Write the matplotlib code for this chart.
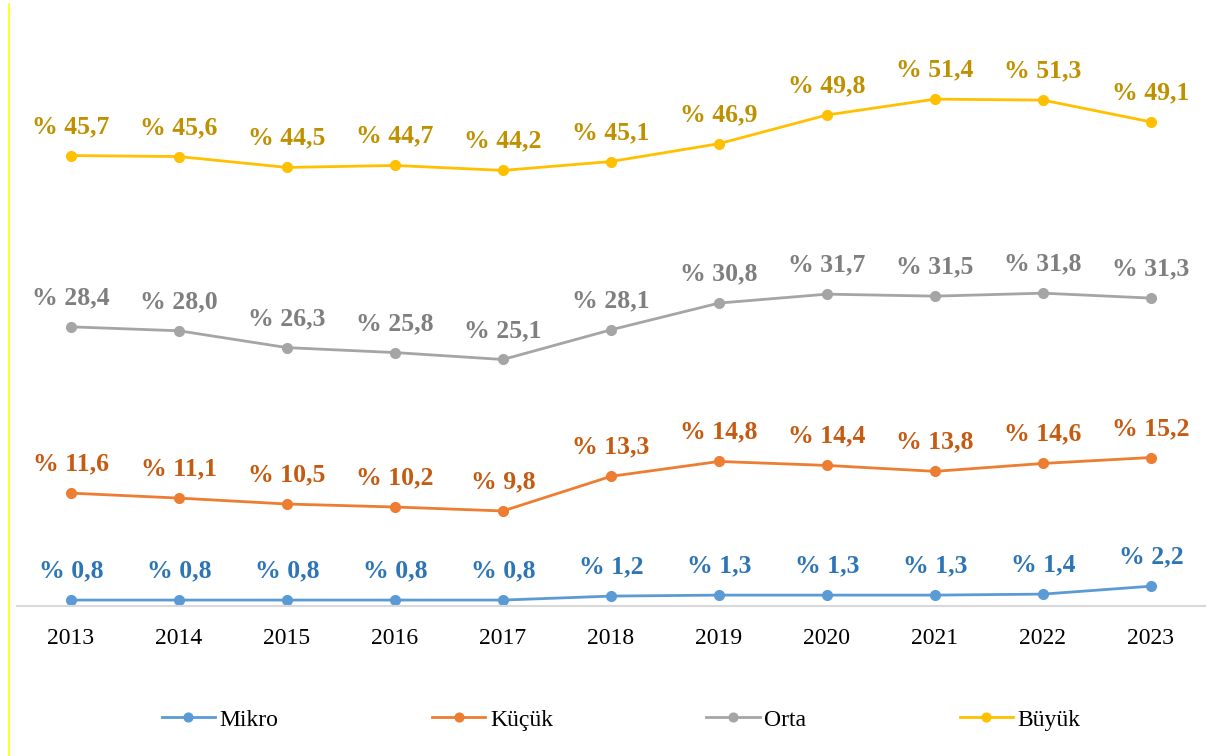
import matplotlib
matplotlib.use("Agg")
import matplotlib.pyplot as plt
from matplotlib.lines import Line2D
from matplotlib.font_manager import FontProperties

plt.rcParams['font.family'] = ['Liberation Serif', 'DejaVu Serif']

years = ["2013", "2014", "2015", "2016", "2017", "2018", "2019", "2020", "2021", "2022", "2023"]
mikro = [0.8, 0.8, 0.8, 0.8, 0.8, 1.2, 1.3, 1.3, 1.3, 1.4, 2.2]
kucuk = [11.6, 11.1, 10.5, 10.2, 9.8, 13.3, 14.8, 14.4, 13.8, 14.6, 15.2]
orta = [28.4, 28.0, 26.3, 25.8, 25.1, 28.1, 30.8, 31.7, 31.5, 31.8, 31.3]
buyuk = [45.7, 45.6, 44.5, 44.7, 44.2, 45.1, 46.9, 49.8, 51.4, 51.3, 49.1]

series = [
    ("Mikro", mikro, "#5B9BD5", "#2E75B6"),
    ("Küçük", kucuk, "#ED7D31", "#C55A11"),
    ("Orta", orta, "#A5A5A5", "#7F7F7F"),
    ("Büyük", buyuk, "#FFC000", "#BF9000"),
]

fig = plt.figure(figsize=(12.11, 7.56), dpi=100)
ax = fig.add_axes([17 / 1211, 1 - 606 / 756, 1188 / 1211, 592 / 756])

x = list(range(len(years)))
for name, vals, col, lcol in series:
    ax.plot(x, vals, color=col, lw=2, marker="o", ms=7, label=name)
    for xi, v in zip(x, vals):
        txt = "% " + f"{v:.1f}".replace(".", ",")
        ax.annotate(txt, (xi, v), xytext=(0, 21), textcoords="offset points",
                    ha="center", va="center", fontsize=18.5, fontweight="bold", color=lcol,
                    family="Liberation Serif")

ax.set_xlim(-0.5, len(years) - 0.5)
ax.set_ylim(0.2, 60)
ax.set_xticks(x)
ax.set_xticklabels(years, fontsize=17, family="Liberation Serif")
ax.tick_params(axis="x", length=0, pad=16)
ax.set_yticks([])
for s in ["left", "right", "top"]:
    ax.spines[s].set_visible(False)
ax.spines["bottom"].set_color("#D9D9D9")
ax.spines["bottom"].set_linewidth(1.5)

fig.legend(loc="center", bbox_to_anchor=(0.513, 1 - 720 / 756), ncol=4, frameon=False,
           prop=FontProperties(family="Liberation Serif", size=17),
           handlelength=2.25, handletextpad=0.2, columnspacing=6.5, markerscale=0.9)

fig.add_artist(Line2D([9 / 1211, 9 / 1211], [0, 1 - 4 / 756], color="#FFFF00", lw=1.2,
                      transform=fig.transFigure))

fig.savefig("out.png", dpi=100)
